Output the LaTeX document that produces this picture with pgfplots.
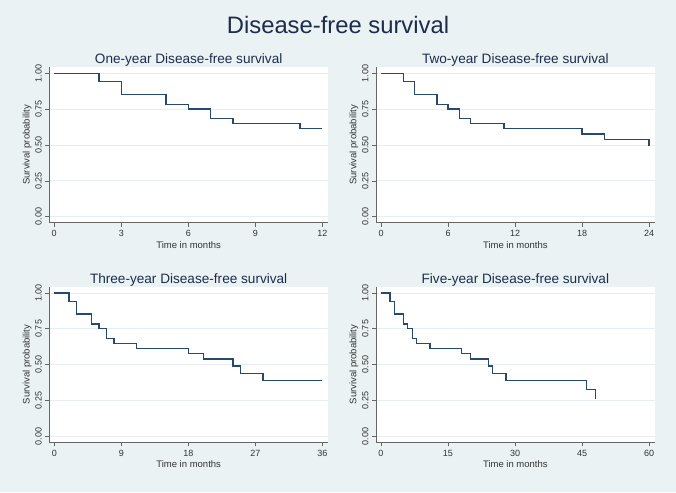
\documentclass[border=0pt]{standalone}
\usepackage{fontspec}
\setmainfont{Liberation Sans}
\usepackage{pgfplots}
\pgfplotsset{compat=1.18}

\definecolor{bgcol}{HTML}{EAF2F3}
\definecolor{kmline}{HTML}{27496F}
\definecolor{gridcol}{HTML}{E6EEF1}
\definecolor{titlecol}{HTML}{1E2C4A}

\pgfplotsset{km/.style={
  scale only axis, width=278.7pt, height=155.7pt, anchor=south west,
  axis lines*=left, axis line style={black!60, line width=0.6pt},
  tick align=outside, major tick length=4pt, tick style={black!60, line width=0.6pt},
  ymin=-0.042, ymax=1.044, ytick={0,0.25,0.5,0.75,1},
  yticklabel style={rotate=90, anchor=south,
    /pgf/number format/.cd, fixed, fixed zerofill, precision=2},
  ymajorgrids, grid style={gridcol, line width=0.8pt},
  axis background/.style={fill=white},
  tick label style={font=\fontsize{9}{11}\selectfont, text=black!80},
  label style={font=\fontsize{9.5}{11}\selectfont, text=black!80},
  title style={font=\fontsize{13.6}{15}\selectfont, text=titlecol, yshift=-9pt},
  xlabel={Time in months}, ylabel={Survival probability},
  xlabel shift=-2pt, ylabel shift=-3pt,
  /pgf/number format/assume math mode=true,
}}

\begin{document}
\begin{tikzpicture}
\fill[bgcol] (0,0) rectangle (676pt,492pt);
\node[font=\fontsize{23.8}{27}\selectfont, text=titlecol] at (338pt,467pt) {Disease-free survival};

% one year
\begin{axis}[km, at={(49.3pt,269.3pt)}, title={One-year Disease-free survival},
  xmin=-0.22, xmax=12.25, xtick={0,3,6,9,12}]
\addplot[const plot, kmline, line width=1.4pt] coordinates {
(0,1) (2,0.941) (3,0.853) (5,0.784) (6,0.751) (7,0.684) (8,0.649) (11,0.614) (12,0.614)};
\end{axis}

% two year
\begin{axis}[km, at={(376pt,269.3pt)}, title={Two-year Disease-free survival},
  xmin=-0.45, xmax=24.5, xtick={0,6,12,18,24}]
\addplot[const plot, kmline, line width=1.4pt] coordinates {
(0,1) (2,0.941) (3,0.853) (5,0.784) (6,0.751) (7,0.684) (8,0.649) (11,0.614)
(18,0.578) (20,0.540) (24,0.490)};
\end{axis}

% three year
\begin{axis}[km, at={(49.3pt,49.7pt)}, title={Three-year Disease-free survival},
  xmin=-0.67, xmax=36.75, xtick={0,9,18,27,36}]
\addplot[const plot, kmline, line width=1.4pt] coordinates {
(0,1) (2,0.941) (3,0.853) (5,0.784) (6,0.751) (7,0.684) (8,0.649) (11,0.614)
(18,0.578) (20,0.540) (24,0.489) (25,0.438) (28,0.389) (36,0.389)};
\end{axis}

% five year
\begin{axis}[km, at={(376pt,49.7pt)}, title={Five-year Disease-free survival},
  xmin=-1.1, xmax=61.25, xtick={0,15,30,45,60}]
\addplot[const plot, kmline, line width=1.4pt] coordinates {
(0,1) (2,0.941) (3,0.853) (5,0.784) (6,0.751) (7,0.684) (8,0.649) (11,0.614)
(18,0.578) (20,0.540) (24,0.489) (25,0.438) (28,0.389) (46,0.326) (48,0.260)};
\end{axis}
\end{tikzpicture}
\end{document}
